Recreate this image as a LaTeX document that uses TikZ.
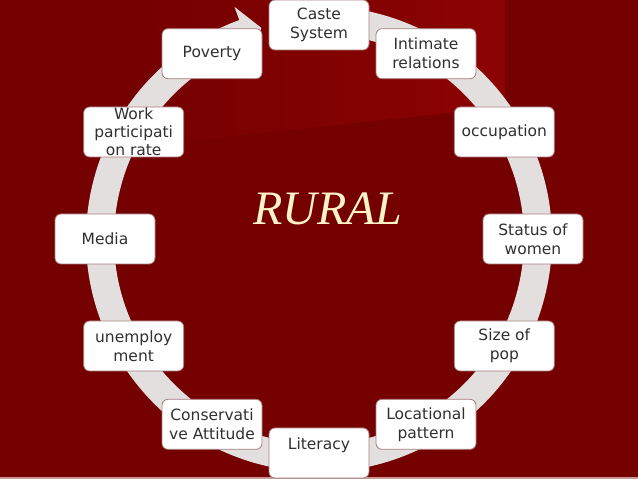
\documentclass[tikz,border=0pt]{standalone}
\usepackage{fontspec}
\setmainfont{DejaVu Sans}
\newfontfamily\ruralfont{Liberation Serif}
\usetikzlibrary{calc}
\definecolor{bgdark}{RGB}{117,0,0}
\definecolor{bglight}{RGB}{140,3,3}
\definecolor{ringgray}{RGB}{228,223,223}
\definecolor{boxline}{RGB}{165,125,125}
\definecolor{boxtext}{RGB}{48,48,48}
\definecolor{ruralcream}{RGB}{255,243,200}
\definecolor{bottomline}{RGB}{205,150,150}

\begin{document}
\begin{tikzpicture}[x=1pt,y=1pt,
    box/.style={draw=boxline, line width=0.8pt, fill=white, rounded corners=6pt,
      minimum width=100pt, minimum height=50pt, inner sep=0pt, align=center,
      text=boxtext, font=\fontsize{15.5}{19}\selectfont}]
\useasboundingbox (0,0) rectangle (638,479);
\fill [bgdark] (0,0) rectangle (638,479);
\shade [left color=bgdark, right color=bglight] (130,479) -- (505,479) -- (505,372) -- (130,332) -- cycle;
\fill [bottomline] (0,0) rectangle (638,2);
\coordinate (C) at (319,240);
\draw [ringgray, line width=28pt] ($(C)+(80:219)$) arc (80:-251.5:219);
\fill [ringgray] ($(C)+(110:247)$) -- ($(C)+(105.3:219)$) -- ($(C)+(110:191)$) -- cycle;
\node [box] (CS) at ($(C)+(90:214)$) {Caste\\System};
\node [box] (IR) at ($(C)+(60:214)$) {Intimate\\relations};
\node [box] (OC) at ($(C)+(30:214)$) {occupation};
\node [box] (SW) at ($(C)+(0:214)$) {Status of\\women};
\node [box] (SP) at ($(C)+(-30:214)$) {Size of\\pop};
\node [box] (LP) at ($(C)+(-60:214)$) {Locational\\pattern};
\node [box] (LI) at ($(C)+(-90:214)$) {Literacy\\~};
\node [box] (CA) at ($(C)+(-120:214)$) {Conservati\\ve Attitude};
\node [box] (UN) at ($(C)+(-150:214)$) {unemploy\\ment};
\node [box] (ME) at ($(C)+(180:214)$) {Media};
\node [box, font=\fontsize{15.5}{18}\selectfont] (WP) at ($(C)+(150:214)$) {Work\\participati\\on rate};
\node [box] (PO) at ($(C)+(120:214)$) {Poverty};
\node [text=ruralcream, font=\ruralfont\itshape\fontsize{48}{48}\selectfont, anchor=base] (RU) at (328,254) {RURAL};
\end{tikzpicture}
\end{document}
